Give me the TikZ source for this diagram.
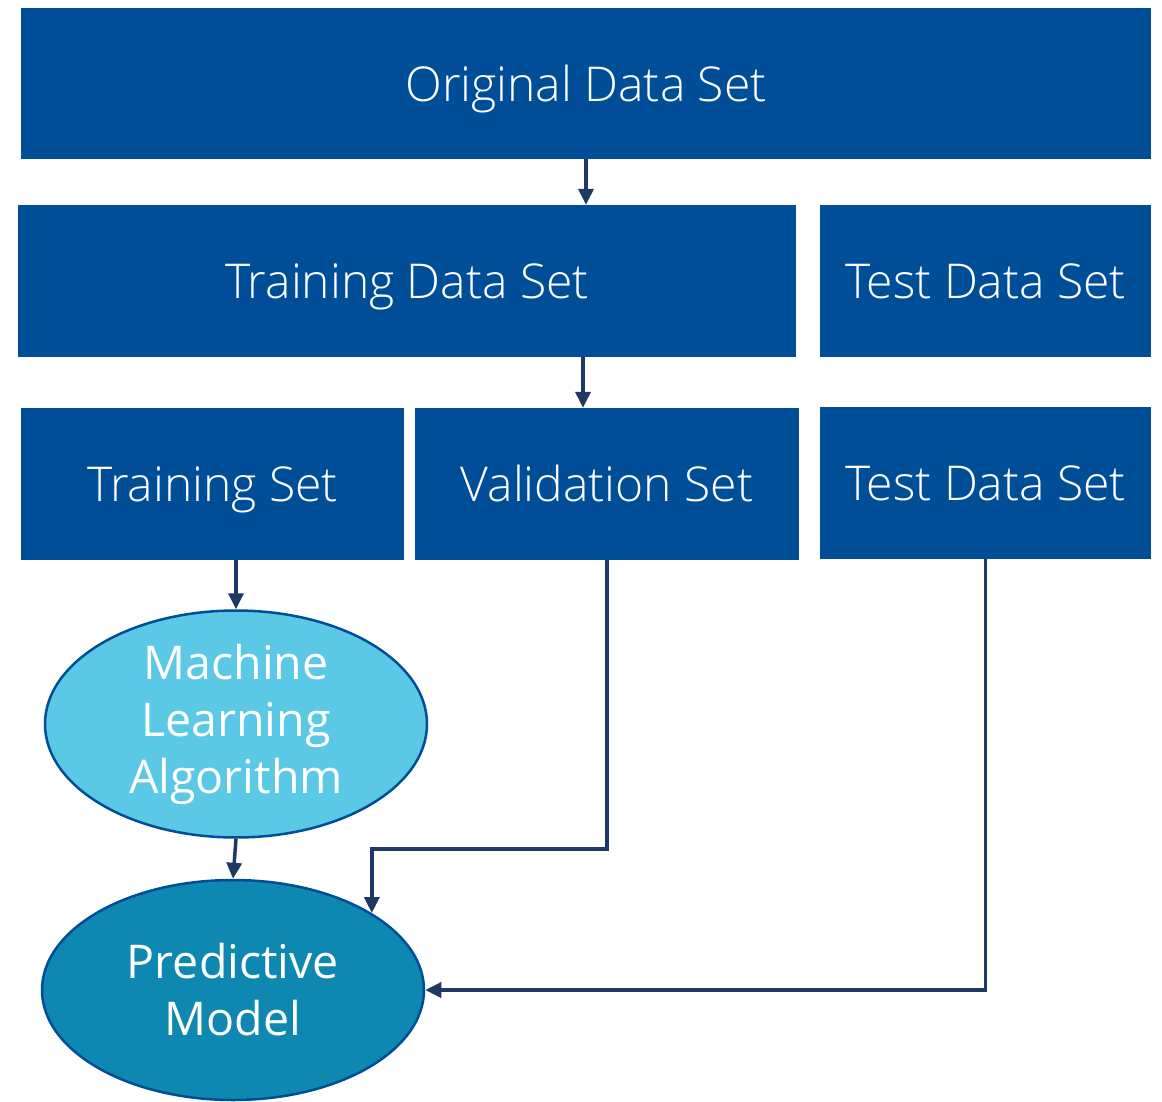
\documentclass[tikz,border=0pt]{standalone}
\usepackage{fontspec}
\setmainfont{Open Sans Light}
\newfontfamily\ellfont{Open Sans}
\usetikzlibrary{shapes.geometric,arrows.meta}
\definecolor{boxblue}{RGB}{0,77,152}
\definecolor{lightell}{RGB}{91,200,230}
\definecolor{darkell}{RGB}{14,136,176}
\definecolor{arrcol}{RGB}{31,56,100}
\tikzset{
  blk/.style={rectangle,fill=boxblue,draw=none,text=white,inner sep=0pt,
    text height=35pt,text depth=0pt,
    font=\fontsize{48}{57}\selectfont},
  ell/.style={ellipse,draw=boxblue,line width=2.5pt,text=white,inner sep=0pt,
    align=center,font=\ellfont\fontsize{46.5}{57}\selectfont},
  arr/.style={draw=arrcol,line width=3.5pt,-{Triangle[length=16pt,width=15pt]}}
}
\begin{document}
\begin{tikzpicture}[x=1pt,y=-1pt]
\useasboundingbox (0,0) rectangle (1162,1101);
\node[blk,minimum width=1130pt,minimum height=151pt] (orig) at (586,83.5) {Original Data Set};
\node[blk,minimum width=778pt,minimum height=152pt] (tds) at (407,281) {Training Data Set};
\node[blk,minimum width=331pt,minimum height=152pt] (test1) at (985.5,281) {Test Data Set};
\node[blk,minimum width=383pt,minimum height=152pt] (trs) at (212.5,484) {Training Set};
\node[blk,minimum width=384pt,minimum height=152pt] (val) at (607,484) {Validation Set};
\node[blk,minimum width=331pt,minimum height=152pt] (test2) at (985.5,483) {Test Data Set};
\node[ell,fill=lightell,minimum width=382pt,minimum height=222pt] (ml) at (236,724) {Machine\\Learning\\Algorithm};
\node[ell,fill=darkell,minimum width=382pt,minimum height=220pt] (pm) at (233,990) {Predictive\\Model};
\coordinate (x583) at (583,0);
\coordinate (bendy) at (0,849);
\draw[arr] (orig.south) -- (orig.south |- tds.north);
\draw[arr] (tds.south -| x583) -- (val.north -| x583);
\draw[arr] (trs.south -| ml.north) -- (ml.north);
\draw[arr] (ml.south) -- (pm.north);
\draw[arr] (val.south) |- (pm.29.5 |- bendy) -- (pm.29.5);
\draw[arr] (test2.south) |- (pm.east);
\end{tikzpicture}
\end{document}
